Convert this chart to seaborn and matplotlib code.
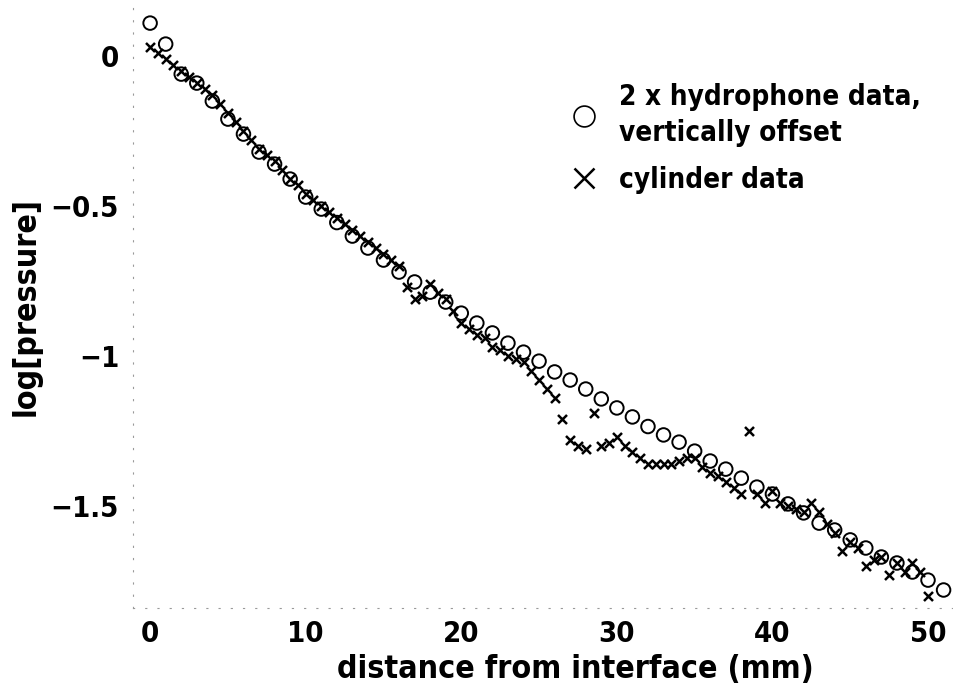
import numpy as np
import pandas as pd
import matplotlib
matplotlib.use("Agg")
import matplotlib.pyplot as plt
import seaborn as sns
from matplotlib import font_manager
from matplotlib.font_manager import FontProperties
from matplotlib.lines import Line2D

# ---- data ----
hydro_x = list(range(0, 52))
hydro_y = [0.11, 0.04, -0.06, -0.09, -0.15, -0.21, -0.26, -0.32, -0.36, -0.41,
           -0.47, -0.51, -0.555, -0.60, -0.64, -0.68, -0.72, -0.753, -0.787, -0.82,
           -0.857, -0.89, -0.923, -0.957, -0.987, -1.017, -1.053, -1.08, -1.11, -1.143,
           -1.173, -1.203, -1.235, -1.263, -1.287, -1.317, -1.35, -1.377, -1.407, -1.437,
           -1.46, -1.493, -1.523, -1.557, -1.58, -1.613, -1.64, -1.67, -1.69, -1.72,
           -1.747, -1.78]

cyl_x = [i * 0.5 for i in range(0, 101)]
cyl_y = [0.03, 0.01, -0.01, -0.03, -0.05, -0.07, -0.09, -0.11, -0.13, -0.16,
         -0.19, -0.22, -0.25, -0.28, -0.31, -0.33, -0.35, -0.38, -0.41, -0.43,
         -0.46, -0.48, -0.50, -0.52, -0.54, -0.56, -0.58, -0.60, -0.62, -0.64,
         -0.66, -0.68, -0.70, -0.77, -0.81, -0.80, -0.76, -0.79, -0.81, -0.85,
         -0.89, -0.91, -0.93, -0.94, -0.97, -0.98, -1.00, -1.01, -1.02, -1.05,
         -1.08, -1.11, -1.14, -1.21, -1.28, -1.30, -1.31, -1.19, -1.30, -1.29,
         -1.27, -1.30, -1.32, -1.34, -1.36, -1.36, -1.36, -1.36, -1.35, -1.34,
         -1.34, -1.37, -1.39, -1.40, -1.42, -1.44, -1.46, -1.25, -1.46, -1.49,
         -1.45, -1.49, -1.50, -1.51, -1.52, -1.49, -1.52, -1.56, -1.59, -1.65,
         -1.62, -1.64, -1.70, -1.68, -1.67, -1.73, -1.69, -1.72, -1.69, -1.72,
         -1.80]

x_ticks = [0, 10, 20, 30, 40, 50]
y_ticks = [0, -0.5, -1, -1.5]
y_tick_labels = ["0", "\u22120.5", "\u22121", "\u22121.5"]
label_hydro = "2 x hydrophone data,\nvertically offset"
label_cyl = "cylinder data"
x_label = "distance from interface (mm)"
y_label = "log[pressure]"

# ---- style ----
sns.set_theme(style="white")
for k in ["text.color", "axes.labelcolor", "xtick.color", "ytick.color"]:
    plt.rcParams[k] = "black"

# look for a bold condensed sans face (reference uses Helvetica Condensed Bold)
entries = font_manager.fontManager.ttflist
def is_bold(f):
    w = f.weight
    if isinstance(w, str):
        return w in ("bold", "heavy", "black", "demibold", "semibold", "extra bold")
    return w >= 600
cond = None
prefs = ["Liberation Sans Narrow", "Noto Sans", "DejaVu Sans", "Open Sans", "Roboto"]
for pref in prefs:
    for f in entries:
        fn = f.fname.lower()
        if f.name.startswith(pref) and is_bold(f) and (
                "narrow" in fn or "condensed" in fn or "cond" in fn) and "semicond" not in fn \
                and "extracond" not in fn and "italic" not in fn and "oblique" not in fn:
            cond = f.fname
            break
    if cond:
        break

if cond:
    fp = FontProperties(fname=cond)
    tick_size, label_size, leg_size = 21, 23, 20
else:
    fp = FontProperties(family=["Liberation Sans", "DejaVu Sans"], weight="bold")
    tick_size, label_size, leg_size = 20, 21, 18

def fpz(size):
    p = fp.copy()
    p.set_size(size)
    return p

df_h = pd.DataFrame({"x": hydro_x, "y": hydro_y})
df_c = pd.DataFrame({"x": cyl_x, "y": cyl_y})

fig = plt.figure(figsize=(9.54, 6.94), dpi=100)
ax = fig.add_axes([133 / 954, 86 / 694, (954 - 133) / 954, 608 / 694])

sns.scatterplot(data=df_c, x="x", y="y", ax=ax, marker="x", s=42,
                color="black", linewidth=1.8, zorder=3)
sns.scatterplot(data=df_h, x="x", y="y", ax=ax, marker="o", s=95,
                facecolor="none", edgecolor="black", linewidth=1.4, zorder=4)

ax.set_xlim(-1.1, 51.67)
ax.set_ylim(-1.84, 0.187)
ax.set_xticks(x_ticks)
ax.set_xticklabels([str(t) for t in x_ticks])
ax.set_yticks(y_ticks)
ax.set_yticklabels(y_tick_labels)
ax.tick_params(axis="x", length=0, pad=9)
ax.tick_params(axis="y", length=0, pad=10)
for lab in ax.get_xticklabels() + ax.get_yticklabels():
    lab.set_fontproperties(fpz(tick_size))

ax.set_xlabel(x_label, fontproperties=fpz(label_size))
ax.set_ylabel(y_label, fontproperties=fpz(label_size))
ax.xaxis.set_label_coords((575 - 133) / 821, (608 - 654) / 608)
ax.yaxis.set_label_coords((42 - 133) / 821, (608 - 307) / 608)

for side in ["top", "right"]:
    ax.spines[side].set_visible(False)
for side in ["left", "bottom"]:
    ax.spines[side].set_color("#999999")
    ax.spines[side].set_linewidth(0.8)
    ax.spines[side].set_linestyle((0, (1, 10)))

handles = [
    Line2D([], [], marker="o", linestyle="none", markersize=15,
           markerfacecolor="none", markeredgecolor="black", markeredgewidth=1.2),
    Line2D([], [], marker="x", linestyle="none", markersize=14,
           color="black", markeredgewidth=1.8),
]
leg = ax.legend(handles, [label_hydro, label_cyl], loc="upper left",
                bbox_to_anchor=(570 / 954, 1 - 83 / 694), bbox_transform=fig.transFigure,
                frameon=False, borderpad=0, borderaxespad=0,
                handlelength=1.0, handletextpad=0.75, labelspacing=0.7,
                prop=fpz(leg_size))
for t in leg.get_texts():
    t.set_linespacing(1.35)

fig.savefig("out.png", dpi=100)
